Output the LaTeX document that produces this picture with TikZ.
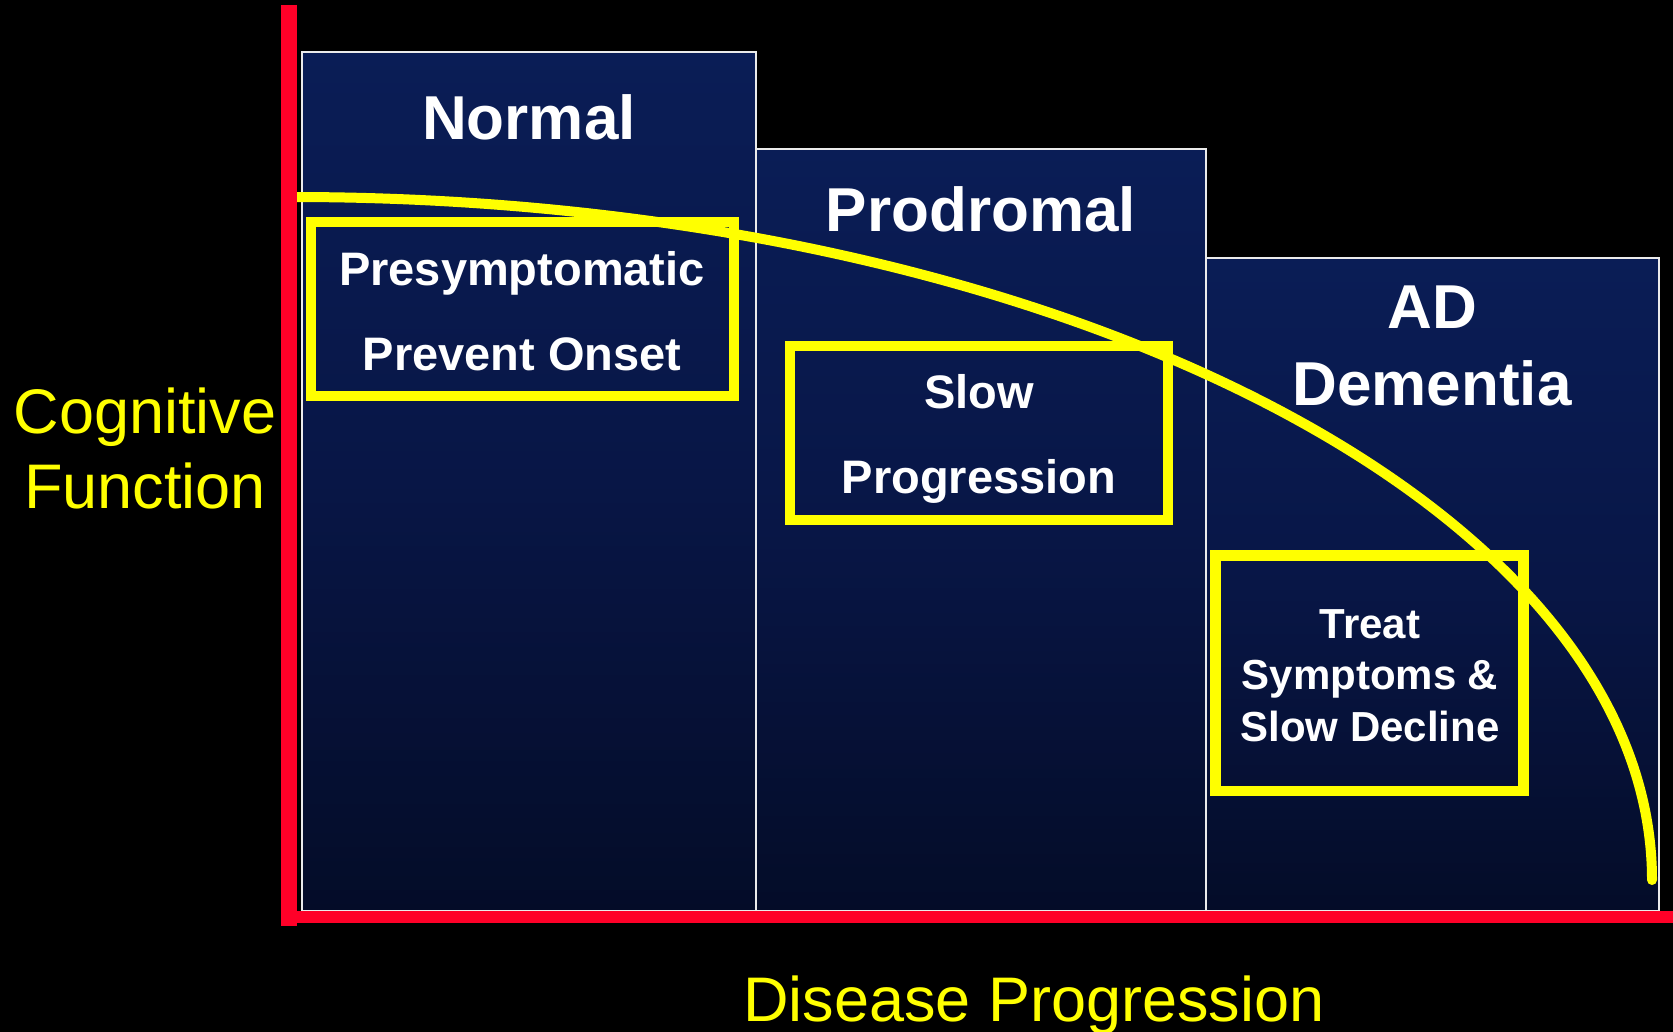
\documentclass[tikz,border=0pt]{standalone}
\usepackage{fontspec}
\setmainfont{Liberation Sans}
\definecolor{navytop}{RGB}{10,29,86}
\definecolor{navymid}{RGB}{8,22,70}
\definecolor{navybot}{RGB}{4,12,40}
\definecolor{axisred}{RGB}{255,0,40}
\definecolor{hl}{RGB}{255,255,0}
\begin{document}
\begin{tikzpicture}[x=1pt,y=-1pt,
  stagebox/.style={top color=navytop, bottom color=navybot, middle color=navymid},
  stageedge/.style={draw=white!92!black, line width=2pt},
  hlbox/.style={draw=hl, line width=10.5pt},
  curve/.style={draw=hl, line width=10pt, line cap=round},
  axis/.style={draw=axisred},
  stagetitle/.style={text=white, inner sep=0pt, anchor=base, align=center,
    font=\fontsize{62}{77}\selectfont\bfseries},
  actiontext/.style={text=white, inner sep=0pt, anchor=base, align=center,
    font=\fontsize{47}{85}\selectfont\bfseries},
  actionsmall/.style={text=white, inner sep=0pt, anchor=base, align=center,
    font=\fontsize{42}{51.5}\selectfont\bfseries},
  axislabel/.style={text=hl, inner sep=0pt, anchor=base, align=center,
    font=\fontsize{63}{75}\selectfont}]
\useasboundingbox (0,0) rectangle (1673,1032);
\fill[black] (0,0) rectangle (1673,1032);
% stage columns
\shade[stagebox] (302,52) rectangle (756,911);
\draw[stageedge] (302,52) rectangle (756,911);
\shade[stagebox] (756,149) rectangle (1206,911);
\draw[stageedge] (756,149) rectangle (1206,911);
\shade[stagebox] (1206,258) rectangle (1659,911);
\draw[stageedge] (1206,258) rectangle (1659,911);
% stage titles (anchor = baseline of last line)
\node[stagetitle] (normal) at (529,140) {Normal};
\node[stagetitle] (prodromal) at (981,232) {Prodromal};
\node[stagetitle] (addementia) at (1432,405) {AD\\Dementia};
% cognitive decline curve
\draw[curve] (292,197) arc[start angle=270, end angle=360, x radius=1360, y radius=683];
% intervention boxes
\draw[hlbox] (311,222) rectangle (734,396);
\draw[hlbox] (790,346) rectangle (1168,520);
\draw[hlbox] (1215.5,555.5) rectangle (1523.5,791);
\node[actiontext] (presym) at (522,370) {Presymptomatic\\Prevent Onset};
\node[actiontext] (slowprog) at (979,493) {Slow\\Progression};
\node[actionsmall] (treat) at (1370,741) {Treat\\Symptoms \&\\Slow Decline};
% axes
\coordinate (ytop) at (289,5);
\coordinate (ybot) at (289,926);
\coordinate (xleft) at (281,917);
\coordinate (xright) at (1673,917);
\draw[axis, line width=16pt] (ytop) -- (ybot);
\draw[axis, line width=12pt] (xleft) -- (xright);
% axis labels
\node[axislabel] (cogfun) at (145,508) {Cognitive\\Function};
\node[axislabel] (disprog) at (1034,1021) {Disease Progression};
\end{tikzpicture}
\end{document}
